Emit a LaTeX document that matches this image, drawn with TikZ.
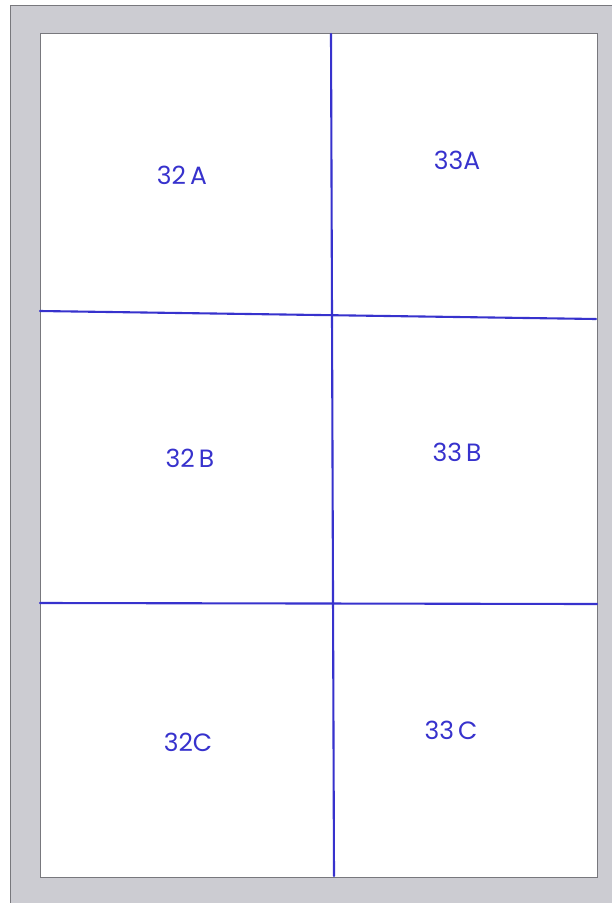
\documentclass[tikz,border=0pt]{standalone}
\usepackage{fontspec}
\setmainfont{Poppins}
\definecolor{pen}{RGB}{55,50,205}
\definecolor{frame}{RGB}{204,204,210}
\definecolor{edge}{RGB}{120,120,125}
\tikzset{
  penline/.style={draw=pen, line width=2.1pt, line cap=round},
  lbl/.style={text=pen, font=\fontsize{25}{27}\selectfont}
}
\begin{document}
\begin{tikzpicture}[x=1pt,y=-1pt]
\useasboundingbox (0,0) rectangle (612,903);
\fill[white] (0,0) rectangle (612,903);
\fill[frame] (10,5) rectangle (612,903);
\draw[edge, line width=0.8pt] (10,5) -- (612,5);
\draw[edge, line width=0.8pt] (10,5) -- (10,903);
\fill[white, draw=edge, line width=1pt] (40,33) rectangle (597,877);
\coordinate (vt) at (331,34);
\coordinate (vb) at (334,876);
\coordinate (h1l) at (40,311);
\coordinate (h1r) at (596,319);
\coordinate (h2l) at (40,603);
\coordinate (h2r) at (597,604);
\draw[penline] (vt) -- (vb);
\draw[penline] (h1l) -- (h1r);
\draw[penline] (h2l) -- (h2r);
\node[lbl] (a32) at (182,175) {32\,A};
\node[lbl] (a33) at (457,160) {33A};
\node[lbl] (b32) at (190,458) {32\,B};
\node[lbl] (b33) at (457,452) {33\,B};
\node[lbl] (c32) at (188,742) {32C};
\node[lbl] (c33) at (451,730) {33\,C};
\end{tikzpicture}
\end{document}
